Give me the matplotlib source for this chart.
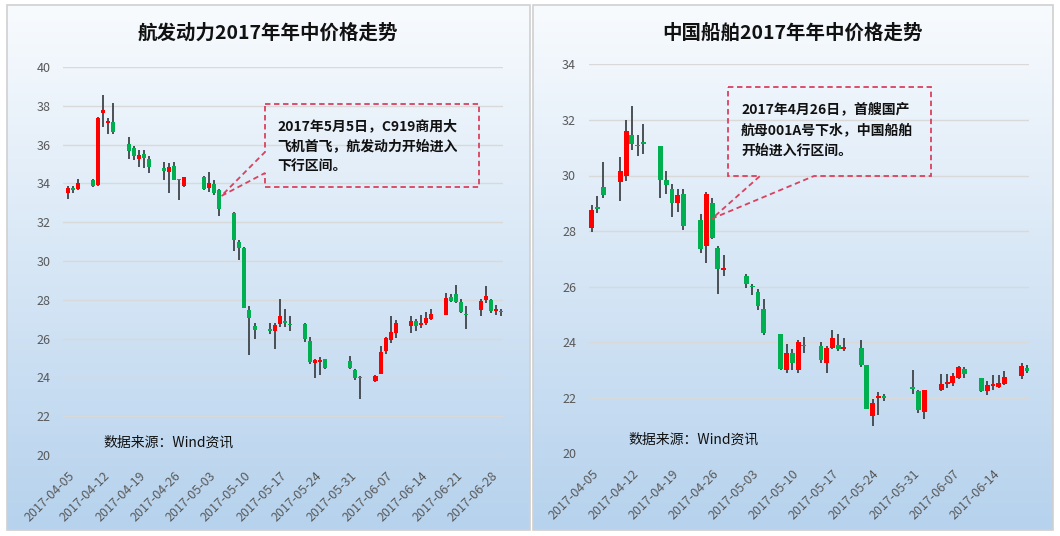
import numpy as np
import matplotlib
matplotlib.use("Agg")
import matplotlib.pyplot as plt
import matplotlib.dates as mdates
from matplotlib.patches import Polygon, Rectangle
import datetime as dt

plt.rcParams['font.family'] = ['Noto Sans CJK SC', 'DejaVu Sans']

# ---------------- data ----------------
left_title = "航发动力2017年年中价格走势"
right_title = "中国船舶2017年年中价格走势"
source_text = "数据来源：Wind资讯"
left_note = "2017年5月5日，C919商用大\n飞机首飞，航发动力开始进入\n下行区间。"
right_note = "2017年4月26日，首艘国产\n航母001A号下水，中国船舶\n开始进入行区间。"

left_dates = ["2017-04-05", "2017-04-06", "2017-04-07", "2017-04-10", "2017-04-11", "2017-04-12",
              "2017-04-13", "2017-04-14", "2017-04-17", "2017-04-18", "2017-04-19", "2017-04-20",
              "2017-04-21", "2017-04-24", "2017-04-25", "2017-04-26", "2017-04-27", "2017-04-28",
              "2017-05-02", "2017-05-03", "2017-05-04", "2017-05-05", "2017-05-08", "2017-05-09",
              "2017-05-10", "2017-05-11", "2017-05-12", "2017-05-15", "2017-05-16", "2017-05-17",
              "2017-05-18", "2017-05-19", "2017-05-22", "2017-05-23", "2017-05-24", "2017-05-25",
              "2017-05-26", "2017-05-31", "2017-06-01", "2017-06-02", "2017-06-05", "2017-06-06",
              "2017-06-07", "2017-06-08", "2017-06-09", "2017-06-12", "2017-06-13", "2017-06-14",
              "2017-06-15", "2017-06-16", "2017-06-19", "2017-06-20", "2017-06-21", "2017-06-22",
              "2017-06-23", "2017-06-26", "2017-06-27", "2017-06-28", "2017-06-29", "2017-06-30"]
left_open = [33.5, 33.75, 33.7, 34.2, 33.9, 37.65, 37.1, 37.15, 36.05, 35.8, 35.25, 35.5,
             35.25, 34.8, 34.6, 34.9, 34.2, 33.85, 34.35, 33.78, 33.95, 33.65, 32.45, 31.0,
             30.65, 27.45, 26.65, 26.47, 26.4, 26.75, 26.9, 26.72, 26.75, 25.9, 24.75, 24.8,
             24.95, 24.85, 24.4, 24.0, 23.8, 24.2, 25.35, 25.95, 26.3, 26.65, 26.9, 26.72,
             26.8, 27.0, 27.2, 28.15, 28.3, 27.9, 27.27, 27.45, 28.0, 28.0, 27.4, 27.42]
left_high = [33.85, 33.85, 34.25, 34.25, 37.4, 38.55, 37.35, 38.15, 36.4, 35.95, 35.7, 35.7,
             35.4, 35.1, 35.05, 35.1, 34.25, 34.35, 34.4, 34.6, 34.2, 33.7, 32.5, 31.1,
             30.7, 27.7, 26.8, 26.82, 26.8, 28.05, 27.5, 27.15, 26.8, 26.1, 24.95, 25.05,
             24.95, 25.1, 24.45, 24.05, 24.1, 25.6, 26.1, 27.15, 26.95, 27.15, 27.0, 27.2,
             27.35, 27.5, 28.35, 28.3, 28.75, 28.05, 27.7, 28.05, 28.7, 28.05, 27.75, 27.5]
left_low = [33.2, 33.5, 33.65, 33.8, 33.85, 36.9, 36.55, 36.55, 35.25, 35.2, 34.85, 34.8,
            34.55, 34.2, 33.5, 34.15, 33.15, 33.8, 33.65, 33.55, 33.4, 32.3, 30.5, 30.05,
            27.6, 25.15, 26.0, 26.23, 25.45, 26.6, 26.6, 26.4, 25.85, 24.7, 23.95, 24.1,
            24.45, 24.45, 23.85, 22.9, 23.75, 24.15, 25.2, 25.75, 26.05, 26.3, 26.4, 26.55,
            26.7, 26.95, 27.2, 27.9, 27.85, 27.3, 26.5, 27.15, 27.85, 27.3, 27.2, 27.15]
left_close = [33.75, 33.65, 34.0, 33.85, 37.35, 37.8, 37.2, 36.65, 35.65, 35.4, 35.45, 35.3,
              34.85, 34.65, 34.85, 34.2, 34.15, 34.35, 33.7, 34.0, 33.5, 32.7, 31.1, 30.65,
              27.6, 27.05, 26.45, 26.4, 26.7, 27.15, 26.8, 26.68, 26.0, 24.8, 24.9, 24.92,
              24.5, 24.5, 23.95, 23.97, 24.05, 25.3, 26.05, 26.35, 26.8, 26.9, 26.65, 26.8,
              27.05, 27.27, 28.1, 27.95, 27.9, 27.35, 27.23, 27.95, 28.2, 27.4, 27.55, 27.37]
left_ticks = ["2017-04-05", "2017-04-12", "2017-04-19", "2017-04-26", "2017-05-03", "2017-05-10",
              "2017-05-17", "2017-05-24", "2017-05-31", "2017-06-07", "2017-06-14", "2017-06-21",
              "2017-06-28"]
left_yticks = [20, 22, 24, 26, 28, 30, 32, 34, 36, 38, 40]

right_dates = ["2017-04-05", "2017-04-06", "2017-04-07", "2017-04-10", "2017-04-11", "2017-04-12",
               "2017-04-13", "2017-04-14", "2017-04-17", "2017-04-18", "2017-04-19", "2017-04-20",
               "2017-04-21", "2017-04-24", "2017-04-25", "2017-04-26", "2017-04-27", "2017-04-28",
               "2017-05-02", "2017-05-03", "2017-05-04", "2017-05-05", "2017-05-08", "2017-05-09",
               "2017-05-10", "2017-05-11", "2017-05-12", "2017-05-15", "2017-05-16", "2017-05-17",
               "2017-05-18", "2017-05-19", "2017-05-22", "2017-05-23", "2017-05-24", "2017-05-25",
               "2017-05-26", "2017-05-31", "2017-06-01", "2017-06-02", "2017-06-05", "2017-06-06",
               "2017-06-07", "2017-06-08", "2017-06-09", "2017-06-12", "2017-06-13", "2017-06-14",
               "2017-06-15", "2017-06-16", "2017-06-19", "2017-06-20"]
right_open = [28.1, 28.85, 29.6, 29.75, 30.0, 31.45, 31.1, 31.18, 31.05, 29.85, 29.5, 29.0,
              29.35, 28.4, 27.45, 29.0, 27.4, 26.6, 26.4, 26.02, 25.8, 25.2, 24.3, 23.0,
              23.6, 23.0, 23.9, 23.85, 23.25, 23.8, 23.9, 23.77, 23.8, 23.2, 21.35, 22.0,
              22.05, 22.37, 22.25, 21.5, 22.3, 22.5, 22.53, 22.7, 23.05, 22.7, 22.25, 22.43,
              22.38, 22.5, 22.77, 23.07]
right_high = [28.95, 29.25, 30.5, 30.65, 32.0, 32.5, 31.46, 31.86, 31.05, 30.15, 29.7, 29.5,
              29.5, 28.6, 29.4, 29.2, 27.45, 27.15, 26.45, 26.1, 25.9, 25.55, 24.3, 23.95,
              23.75, 24.1, 24.2, 24.0, 23.85, 24.45, 24.3, 24.15, 24.1, 23.2, 21.95, 22.2,
              22.15, 23.0, 22.3, 22.3, 22.85, 22.85, 22.9, 23.15, 23.12, 22.72, 22.6, 22.82,
              22.82, 22.95, 23.27, 23.2]
right_low = [27.95, 28.65, 29.2, 29.1, 29.8, 30.9, 30.7, 30.78, 29.2, 29.35, 28.5, 28.7,
             28.05, 27.2, 26.85, 27.7, 25.75, 26.4, 25.95, 25.7, 25.15, 24.25, 23.0, 22.9,
             23.0, 22.9, 23.6, 23.25, 22.9, 23.75, 23.7, 23.7, 23.1, 21.6, 21.0, 21.4,
             21.9, 22.15, 21.45, 21.25, 22.25, 22.35, 22.43, 22.67, 22.7, 22.2, 22.1, 22.3,
             22.35, 22.45, 22.67, 22.88]
right_close = [28.75, 28.8, 29.3, 30.15, 31.6, 31.15, 31.05, 31.14, 29.85, 29.65, 29.0, 29.3,
               28.2, 27.35, 29.35, 27.75, 26.65, 26.68, 26.1, 25.98, 25.3, 24.35, 23.05, 23.6,
               23.25, 24.0, 23.85, 23.35, 23.8, 24.15, 23.75, 23.82, 23.2, 21.6, 21.8, 22.05,
               22.0, 22.33, 21.55, 22.3, 22.5, 22.55, 22.77, 23.1, 22.85, 22.25, 22.45, 22.5,
               22.55, 22.75, 23.15, 22.95]
right_ticks = ["2017-04-05", "2017-04-12", "2017-04-19", "2017-04-26", "2017-05-03", "2017-05-10",
               "2017-05-17", "2017-05-24", "2017-05-31", "2017-06-07", "2017-06-14"]
right_yticks = [20, 22, 24, 26, 28, 30, 32, 34]

# ---------------- layout ----------------
W, H = 1060, 536
fig = plt.figure(figsize=(W / 100, H / 100), dpi=100, facecolor='white')


def fx(x):
    return x / W


def fy(y):
    return 1 - y / H


def panel(x0, x1, y0, y1):
    bg = fig.add_axes([fx(x0), fy(y1), fx(x1 - x0), (y1 - y0) / H], zorder=-10)
    top = np.array([248, 251, 254]) / 255
    bot = np.array([182, 210, 237]) / 255
    t = np.linspace(0, 1, 256)[:, None]
    grad = (top[None, :] * (1 - t) + bot[None, :] * t)[:, None, :]
    bg.imshow(grad, aspect='auto', extent=[0, 1, 0, 1], origin='upper')
    bg.set_xlim(0, 1)
    bg.set_ylim(0, 1)
    bg.axis('off')
    bg.add_patch(Rectangle((0, 0), 1, 1, transform=bg.transAxes, fill=False,
                           edgecolor='#D0D0D0', lw=1.2, clip_on=False))


panel(7, 530, 5, 530)
panel(533, 1053, 5, 530)

UP = '#FF0000'
DOWN = '#00B050'
WICK = '#3F4448'


def to_num(lst):
    return mdates.date2num([dt.datetime.strptime(s, "%Y-%m-%d") for s in lst])


def candles(ax, dates, o, h, l, c, width):
    x = to_num(dates)
    o = np.array(o); h = np.array(h); l = np.array(l); c = np.array(c)
    cols = np.where(c >= o, UP, DOWN)
    ax.vlines(x, l, h, color=WICK, lw=1.3, zorder=3)
    bottom = np.minimum(o, c)
    height = np.maximum(np.abs(c - o), 0.06)
    ax.bar(x, height, width=width, bottom=bottom, color=cols, edgecolor='none', zorder=4)


def style(ax, ticks, yticks, x0, x1):
    ax.set_facecolor('none')
    ax.set_ylim(yticks[0], yticks[-1])
    ax.set_yticks(yticks)
    ax.set_xlim(x0, x1)
    tn = to_num(ticks)
    ax.set_xticks(tn)
    ax.set_xticklabels(ticks, rotation=45, ha='right', va='top', rotation_mode='anchor',
                       fontweight='medium')
    for lab in ax.get_yticklabels():
        lab.set_fontweight('medium')
    for s in ax.spines.values():
        s.set_visible(False)
    ax.grid(axis='y', color='#D9D9D9', lw=1.0, zorder=0)
    ax.set_axisbelow(True)
    ax.tick_params(axis='both', length=0, colors='#595959', labelsize=9)
    ax.tick_params(axis='x', pad=10)
    ax.tick_params(axis='y', pad=9)


# left chart
axL = fig.add_axes([fx(63), fy(455), fx(503 - 63), (455 - 67) / H])
d0L = to_num(["2017-04-05"])[0]
candles(axL, left_dates, left_open, left_high, left_low, left_close, 0.8)
style(axL, left_ticks, left_yticks, d0L - 1.0, d0L + 86.3)

# right chart
axR = fig.add_axes([fx(588.5), fy(453.5), fx(1028.5 - 588.5), (453.5 - 64.3) / H])
d0R = to_num(["2017-04-05"])[0]
candles(axR, right_dates, right_open, right_high, right_low, right_close, 0.85)
style(axR, right_ticks, right_yticks, d0R - 0.56, d0R + 76.2)

# titles
fig.text(fx(268), fy(33), left_title, ha='center', va='center', fontsize=14, fontweight='bold', color='#111111')
fig.text(fx(793), fy(33), right_title, ha='center', va='center', fontsize=14, fontweight='bold', color='#111111')

# source
fig.text(fx(103), fy(443), source_text, ha='left', va='center', fontsize=10, color='#111111',
         fontweight='medium')
fig.text(fx(628), fy(440), source_text, ha='left', va='center', fontsize=10, color='#111111',
         fontweight='medium')


def data_px(ax, date, val):
    dx, dy = ax.transData.transform((to_num([date])[0], val))
    return dx, H - dy


def callout(pts):
    poly = Polygon([(fx(x), fy(y)) for x, y in pts], closed=True, fill=False,
                   edgecolor='#D9415F', lw=1.3, linestyle=(0, (3, 2)),
                   transform=fig.transFigure, zorder=20)
    fig.add_artist(poly)


tipL = data_px(axL, "2017-05-05", 33.35)
tipL = (tipL[0] + 2, tipL[1])
callout([(265, 104), (479, 104), (479, 187), (265, 187), (265, 173), tipL, (265, 152)])
fig.text(fx(277), fy(146), left_note, ha='left', va='center', fontsize=10, fontweight='bold',
         color='#111111', linespacing=1.55)

tipR = data_px(axR, "2017-04-26", 28.45)
callout([(728, 87), (931, 87), (931, 176), (814, 176), tipR, (760, 176), (728, 176)])
fig.text(fx(741), fy(130), right_note, ha='left', va='center', fontsize=10, fontweight='bold',
         color='#111111', linespacing=1.65)

fig.savefig("out.png", dpi=100)
